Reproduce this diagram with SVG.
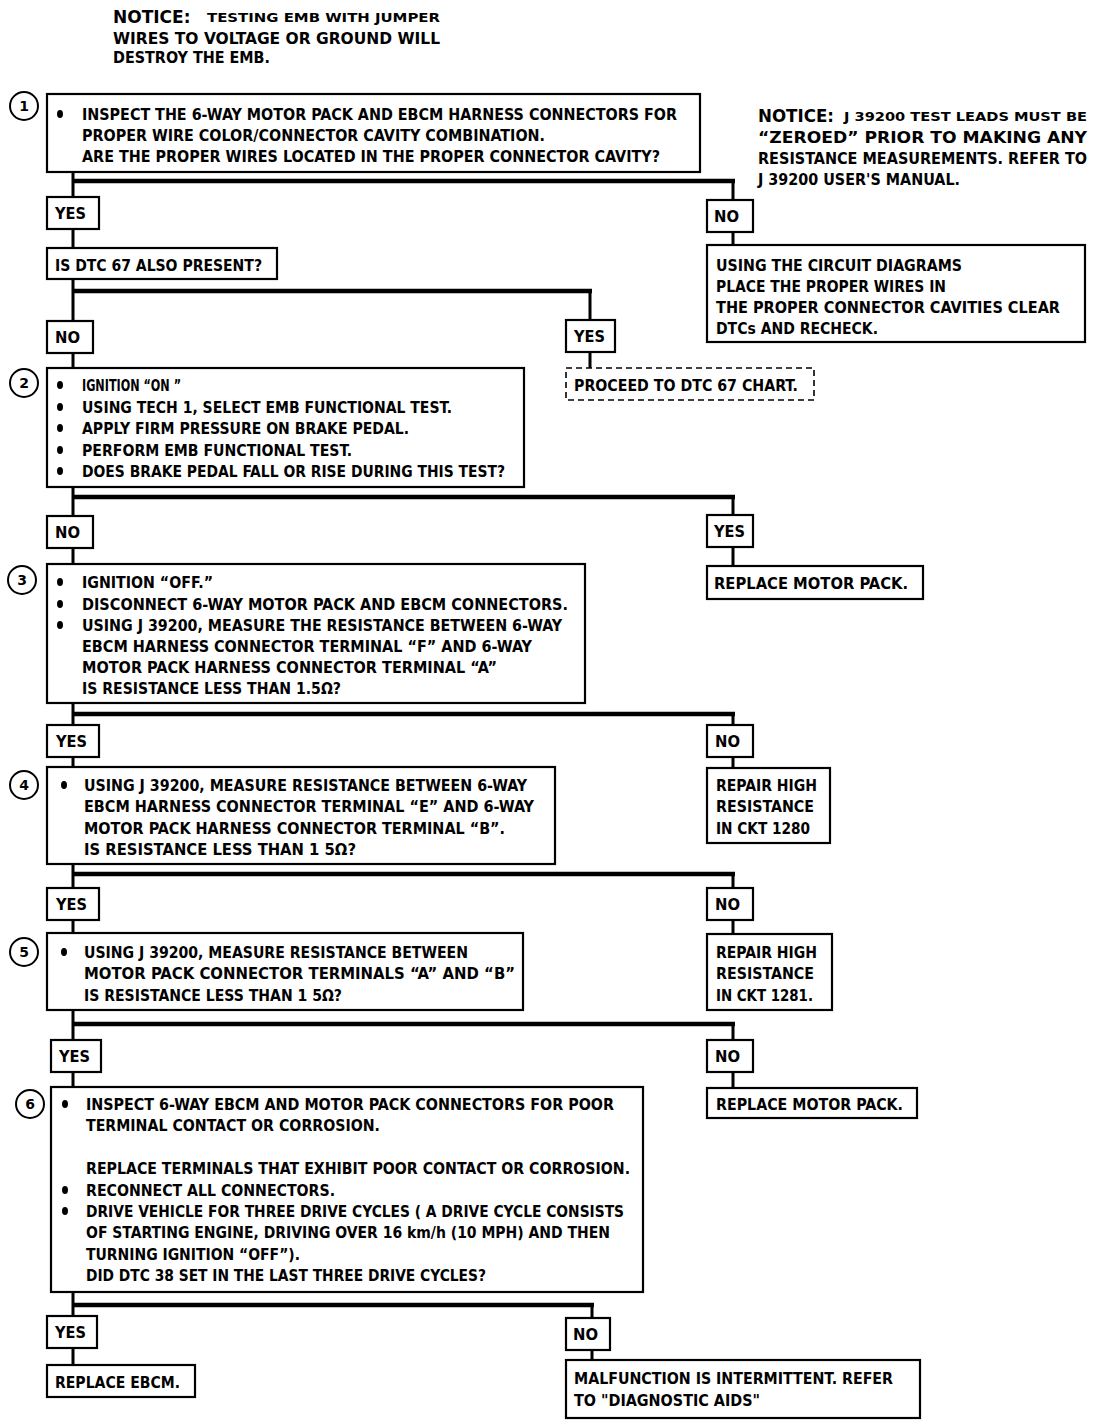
<svg xmlns="http://www.w3.org/2000/svg" width="1104" height="1424" viewBox="0 0 1104 1424">
<style>
.bx{fill:#fff;stroke:#000;stroke-width:2.2}
.ds{fill:#fff;stroke:#000;stroke-width:1.6;stroke-dasharray:6 4}
.cn{fill:none;stroke:#000;stroke-width:3;stroke-linecap:square}
.hz{fill:none;stroke:#000;stroke-width:4.5}
.t{font-family:"Liberation Sans Narrow","DejaVu Sans Condensed","DejaVu Sans","Liberation Sans",sans-serif;font-weight:bold;font-size:16px;fill:#000}
.s{font-size:13px}
.m{font-size:15px}
.n{font-family:"DejaVu Sans","Liberation Sans",sans-serif;font-weight:bold;font-size:17px;fill:#000}
.cr{fill:#fff;stroke:#000;stroke-width:2}
.num{font-family:"DejaVu Sans","Liberation Sans",sans-serif;font-weight:bold;font-size:14px;fill:#000;text-anchor:middle}
</style>
<defs>
<ellipse id="bul" cx="0" cy="0" rx="3" ry="4" fill="#000"/>
</defs>
<rect width="1104" height="1424" fill="#fff"/>

<g id="connectors">
<path class="cn" d="M73 172V197M73 229V248M73 279V321M73 353V368M73 487V516M73 548V564M73 703V725M73 757V767M73 864V888M73 920V933M73 1010V1040M73 1072V1087M73 1292V1316M73 1348V1365"/>
<path class="cn" d="M733 181V200M733 232V245M590 291V320M590 352V368M733 497V515M733 547V566M733 714V725M733 757V768M733 874V888M733 920V934M733 1024V1040M733 1072V1088M592 1305V1318M592 1350V1360"/>
<path class="hz" d="M73 181H735M73 291H592M73 497H735M73 714H735M73 874H735M73 1024H735M73 1305H594"/>
</g>

<g id="notice1">
<text class="n" x="113" y="23">NOTICE:</text>
<text class="t s" x="207" y="22" textLength="233" lengthAdjust="spacingAndGlyphs">TESTING EMB WITH JUMPER</text>
<text class="t" x="113" y="44" textLength="327" lengthAdjust="spacingAndGlyphs">WIRES TO VOLTAGE OR GROUND WILL</text>
<text class="t m" x="113" y="63" textLength="157" lengthAdjust="spacingAndGlyphs">DESTROY THE EMB.</text>
</g>

<g id="notice2">
<text class="n" x="758" y="122" textLength="76" lengthAdjust="spacingAndGlyphs">NOTICE:</text>
<text class="t s" x="844" y="121" textLength="243" lengthAdjust="spacingAndGlyphs">J 39200 TEST LEADS MUST BE</text>
<text class="t" x="758" y="143" textLength="329" lengthAdjust="spacingAndGlyphs">“ZEROED”  PRIOR  TO  MAKING  ANY</text>
<text class="t" x="758" y="164" textLength="329" lengthAdjust="spacingAndGlyphs">RESISTANCE MEASUREMENTS. REFER TO</text>
<text class="t m" x="758" y="185" textLength="202" lengthAdjust="spacingAndGlyphs">J 39200 USER'S MANUAL.</text>
</g>

<g id="step1">
<circle class="cr" cx="24" cy="106" r="14"/><text class="num" x="24" y="111">1</text>
<rect class="bx" x="47" y="94" width="653" height="78"/>
<use href="#bul" x="60" y="114"/>
<text class="t" x="82" y="120" textLength="595" lengthAdjust="spacingAndGlyphs">INSPECT THE 6-WAY MOTOR PACK AND EBCM HARNESS CONNECTORS FOR</text>
<text class="t" x="82" y="141" textLength="463" lengthAdjust="spacingAndGlyphs">PROPER WIRE COLOR/CONNECTOR CAVITY COMBINATION.</text>
<text class="t" x="82" y="162" textLength="578" lengthAdjust="spacingAndGlyphs">ARE THE PROPER WIRES LOCATED IN THE PROPER CONNECTOR CAVITY?</text>
</g>

<g id="yes1"><rect class="bx" x="47" y="197" width="52" height="32"/><text class="t" x="55" y="219" textLength="31" lengthAdjust="spacingAndGlyphs">YES</text></g>
<g id="no1"><rect class="bx" x="707" y="200" width="46" height="32"/><text class="t" x="714" y="222" textLength="25" lengthAdjust="spacingAndGlyphs">NO</text></g>

<g id="fixwires">
<rect class="bx" x="707" y="245" width="378" height="97"/>
<text class="t" x="716" y="271" textLength="246" lengthAdjust="spacingAndGlyphs">USING THE CIRCUIT DIAGRAMS</text>
<text class="t" x="716" y="292" textLength="230" lengthAdjust="spacingAndGlyphs">PLACE THE PROPER WIRES IN</text>
<text class="t" x="716" y="313" textLength="344" lengthAdjust="spacingAndGlyphs">THE PROPER CONNECTOR CAVITIES   CLEAR</text>
<text class="t" x="716" y="334" textLength="162" lengthAdjust="spacingAndGlyphs">DTCs AND RECHECK.</text>
</g>

<g id="dtc67q">
<rect class="bx" x="47" y="248" width="230" height="31"/>
<text class="t" x="55" y="271" textLength="207" lengthAdjust="spacingAndGlyphs">IS DTC 67 ALSO PRESENT?</text>
</g>

<g id="no2"><rect class="bx" x="47" y="321" width="46" height="32"/><text class="t" x="55" y="343" textLength="25" lengthAdjust="spacingAndGlyphs">NO</text></g>
<g id="yes2"><rect class="bx" x="566" y="320" width="49" height="32"/><text class="t" x="574" y="342" textLength="31" lengthAdjust="spacingAndGlyphs">YES</text></g>

<g id="dtc67chart">
<rect class="ds" x="566" y="368" width="248" height="32"/>
<text class="t" x="574" y="391" textLength="224" lengthAdjust="spacingAndGlyphs">PROCEED TO DTC 67 CHART.</text>
</g>

<g id="step2">
<circle class="cr" cx="24" cy="383" r="14"/><text class="num" x="24" y="388">2</text>
<rect class="bx" x="47" y="368" width="477" height="119"/>
<use href="#bul" x="60" y="385"/><use href="#bul" x="60" y="407"/><use href="#bul" x="60" y="428"/><use href="#bul" x="60" y="450"/><use href="#bul" x="60" y="471"/>
<text class="t" x="82" y="391" textLength="99" lengthAdjust="spacingAndGlyphs">IGNITION “ON ”</text>
<text class="t" x="82" y="413" textLength="370" lengthAdjust="spacingAndGlyphs">USING TECH 1, SELECT EMB FUNCTIONAL TEST.</text>
<text class="t" x="82" y="434" textLength="327" lengthAdjust="spacingAndGlyphs">APPLY FIRM PRESSURE ON BRAKE PEDAL.</text>
<text class="t" x="82" y="456" textLength="270" lengthAdjust="spacingAndGlyphs">PERFORM EMB FUNCTIONAL TEST.</text>
<text class="t" x="82" y="477" textLength="423" lengthAdjust="spacingAndGlyphs">DOES BRAKE PEDAL FALL OR RISE DURING THIS TEST?</text>
</g>

<g id="no3"><rect class="bx" x="47" y="516" width="46" height="32"/><text class="t" x="55" y="538" textLength="25" lengthAdjust="spacingAndGlyphs">NO</text></g>
<g id="yes3"><rect class="bx" x="707" y="515" width="46" height="32"/><text class="t" x="714" y="537" textLength="31" lengthAdjust="spacingAndGlyphs">YES</text></g>

<g id="replacemp1">
<rect class="bx" x="707" y="566" width="216" height="33"/>
<text class="t" x="714" y="589" textLength="194" lengthAdjust="spacingAndGlyphs">REPLACE  MOTOR PACK.</text>
</g>

<g id="step3">
<circle class="cr" cx="22" cy="580" r="14"/><text class="num" x="22" y="585">3</text>
<rect class="bx" x="47" y="564" width="538" height="139"/>
<use href="#bul" x="60" y="582"/><use href="#bul" x="60" y="604"/><use href="#bul" x="60" y="625"/>
<text class="t" x="82" y="588" textLength="131" lengthAdjust="spacingAndGlyphs">IGNITION “OFF.”</text>
<text class="t" x="82" y="610" textLength="486" lengthAdjust="spacingAndGlyphs">DISCONNECT 6-WAY MOTOR PACK AND EBCM CONNECTORS.</text>
<text class="t" x="82" y="631" textLength="480" lengthAdjust="spacingAndGlyphs">USING J 39200, MEASURE THE RESISTANCE BETWEEN 6-WAY</text>
<text class="t" x="82" y="652" textLength="450" lengthAdjust="spacingAndGlyphs">EBCM HARNESS CONNECTOR TERMINAL “F” AND 6-WAY</text>
<text class="t" x="82" y="673" textLength="415" lengthAdjust="spacingAndGlyphs">MOTOR PACK HARNESS CONNECTOR TERMINAL “A”</text>
<text class="t" x="82" y="694" textLength="259" lengthAdjust="spacingAndGlyphs">IS RESISTANCE LESS THAN 1.5Ω?</text>
</g>

<g id="yes4"><rect class="bx" x="47" y="725" width="52" height="32"/><text class="t" x="56" y="747" textLength="31" lengthAdjust="spacingAndGlyphs">YES</text></g>
<g id="no4"><rect class="bx" x="707" y="725" width="46" height="32"/><text class="t" x="715" y="747" textLength="25" lengthAdjust="spacingAndGlyphs">NO</text></g>

<g id="repair1280">
<rect class="bx" x="707" y="768" width="123" height="75"/>
<text class="t" x="716" y="791" textLength="101" lengthAdjust="spacingAndGlyphs">REPAIR HIGH</text>
<text class="t" x="716" y="812" textLength="98" lengthAdjust="spacingAndGlyphs">RESISTANCE</text>
<text class="t" x="716" y="834" textLength="94" lengthAdjust="spacingAndGlyphs">IN CKT 1280</text>
</g>

<g id="step4">
<circle class="cr" cx="24" cy="785" r="14"/><text class="num" x="24" y="790">4</text>
<rect class="bx" x="47" y="767" width="508" height="97"/>
<use href="#bul" x="64" y="785"/>
<text class="t" x="84" y="791" textLength="443" lengthAdjust="spacingAndGlyphs">USING J 39200, MEASURE RESISTANCE BETWEEN 6-WAY</text>
<text class="t" x="84" y="812" textLength="450" lengthAdjust="spacingAndGlyphs">EBCM HARNESS CONNECTOR TERMINAL “E” AND 6-WAY</text>
<text class="t" x="84" y="834" textLength="421" lengthAdjust="spacingAndGlyphs">MOTOR PACK HARNESS CONNECTOR TERMINAL “B”.</text>
<text class="t" x="84" y="855" textLength="272" lengthAdjust="spacingAndGlyphs">IS RESISTANCE LESS THAN 1 5Ω?</text>
</g>

<g id="yes5"><rect class="bx" x="47" y="888" width="52" height="32"/><text class="t" x="56" y="910" textLength="31" lengthAdjust="spacingAndGlyphs">YES</text></g>
<g id="no5"><rect class="bx" x="707" y="888" width="46" height="32"/><text class="t" x="715" y="910" textLength="25" lengthAdjust="spacingAndGlyphs">NO</text></g>

<g id="repair1281">
<rect class="bx" x="707" y="934" width="125" height="76"/>
<text class="t" x="716" y="958" textLength="101" lengthAdjust="spacingAndGlyphs">REPAIR HIGH</text>
<text class="t" x="716" y="979" textLength="98" lengthAdjust="spacingAndGlyphs">RESISTANCE</text>
<text class="t" x="716" y="1001" textLength="97" lengthAdjust="spacingAndGlyphs">IN CKT 1281.</text>
</g>

<g id="step5">
<circle class="cr" cx="24" cy="952" r="14"/><text class="num" x="24" y="957">5</text>
<rect class="bx" x="47" y="933" width="476" height="77"/>
<use href="#bul" x="64" y="952"/>
<text class="t" x="84" y="958" textLength="384" lengthAdjust="spacingAndGlyphs">USING J 39200, MEASURE RESISTANCE BETWEEN</text>
<text class="t" x="84" y="979" textLength="431" lengthAdjust="spacingAndGlyphs">MOTOR PACK CONNECTOR TERMINALS “A” AND  “B”</text>
<text class="t" x="84" y="1001" textLength="258" lengthAdjust="spacingAndGlyphs">IS RESISTANCE LESS THAN 1 5Ω?</text>
</g>

<g id="yes6"><rect class="bx" x="51" y="1040" width="50" height="32"/><text class="t" x="59" y="1062" textLength="31" lengthAdjust="spacingAndGlyphs">YES</text></g>
<g id="no6"><rect class="bx" x="707" y="1040" width="46" height="32"/><text class="t" x="715" y="1062" textLength="25" lengthAdjust="spacingAndGlyphs">NO</text></g>

<g id="replacemp2">
<rect class="bx" x="707" y="1088" width="210" height="30"/>
<text class="t" x="716" y="1110" textLength="187" lengthAdjust="spacingAndGlyphs">REPLACE MOTOR PACK.</text>
</g>

<g id="step6">
<circle class="cr" cx="30" cy="1104" r="14"/><text class="num" x="30" y="1109">6</text>
<rect class="bx" x="51" y="1087" width="592" height="205"/>
<use href="#bul" x="65" y="1104"/><use href="#bul" x="65" y="1190"/><use href="#bul" x="65" y="1211"/>
<text class="t" x="86" y="1110" textLength="528" lengthAdjust="spacingAndGlyphs">INSPECT 6-WAY EBCM AND MOTOR PACK CONNECTORS FOR POOR</text>
<text class="t" x="86" y="1131" textLength="294" lengthAdjust="spacingAndGlyphs">TERMINAL CONTACT OR CORROSION.</text>
<text class="t" x="86" y="1174" textLength="544" lengthAdjust="spacingAndGlyphs">REPLACE TERMINALS THAT EXHIBIT POOR CONTACT OR CORROSION.</text>
<text class="t" x="86" y="1196" textLength="249" lengthAdjust="spacingAndGlyphs">RECONNECT ALL CONNECTORS.</text>
<text class="t" x="86" y="1217" textLength="538" lengthAdjust="spacingAndGlyphs">DRIVE VEHICLE FOR THREE DRIVE CYCLES ( A DRIVE CYCLE CONSISTS</text>
<text class="t" x="86" y="1238" textLength="524" lengthAdjust="spacingAndGlyphs">OF STARTING ENGINE, DRIVING OVER 16 km/h (10 MPH) AND THEN</text>
<text class="t" x="86" y="1260" textLength="214" lengthAdjust="spacingAndGlyphs">TURNING IGNITION “OFF”).</text>
<text class="t" x="86" y="1281" textLength="400" lengthAdjust="spacingAndGlyphs">DID DTC 38 SET IN THE LAST THREE DRIVE CYCLES?</text>
</g>

<g id="yes7"><rect class="bx" x="47" y="1316" width="50" height="32"/><text class="t" x="55" y="1338" textLength="31" lengthAdjust="spacingAndGlyphs">YES</text></g>
<g id="no7"><rect class="bx" x="566" y="1318" width="44" height="32"/><text class="t" x="573" y="1340" textLength="25" lengthAdjust="spacingAndGlyphs">NO</text></g>

<g id="replaceebcm">
<rect class="bx" x="47" y="1365" width="148" height="32"/>
<text class="t" x="55" y="1388" textLength="125" lengthAdjust="spacingAndGlyphs">REPLACE EBCM.</text>
</g>

<g id="intermittent">
<rect class="bx" x="566" y="1360" width="354" height="58"/>
<text class="t" x="574" y="1384" textLength="319" lengthAdjust="spacingAndGlyphs">MALFUNCTION IS INTERMITTENT.  REFER</text>
<text class="t" x="574" y="1406" textLength="186" lengthAdjust="spacingAndGlyphs">TO "DIAGNOSTIC AIDS"</text>
</g>
</svg>
